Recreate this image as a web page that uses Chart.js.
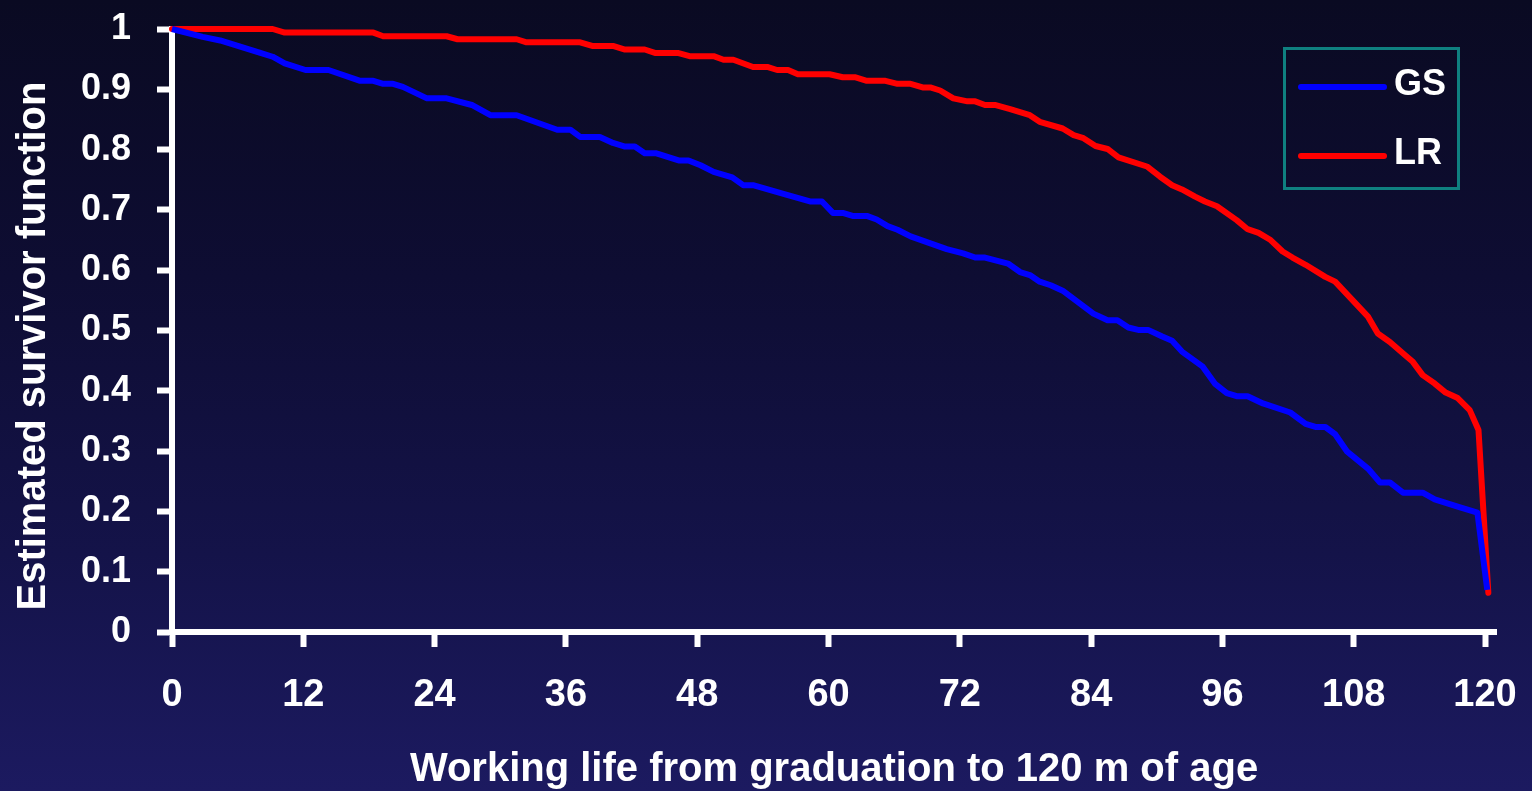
<!DOCTYPE html>
<html>
<head>
<meta charset="utf-8">
<script src="https://cdn.jsdelivr.net/npm/chart.js@4.4.1/dist/chart.umd.min.js"></script>
<style>
  html, body { margin: 0; padding: 0; width: 1532px; height: 791px; overflow: hidden; }
  body { background: linear-gradient(to bottom, #0a0a22 0%, #0e0d33 35%, #141349 70%, #1c1a60 100%); }
  #wrap { position: relative; width: 1532px; height: 791px; }
</style>
</head>
<body>
<div id="wrap"><canvas id="c" width="1532" height="791"></canvas></div>
<script>
// ---- data (months since graduation, estimated survivor function) ----
const gsMonths = [0, 2.8, 4.4, 8.0, 9.2, 10.3, 12.2, 14.3, 17.2, 18.4, 19.3, 20.2, 21.1, 23.3, 25.1, 27.4, 29.1, 31.5, 35.2, 36.4, 37.3, 39.1, 40.3, 41.4, 42.3, 43.2, 44.2, 46.3, 47.2, 48.3, 49.5, 51.2, 52.2, 53.1, 56.2, 58.3, 59.4, 60.4, 61.3, 62.2, 63.5, 64.4, 65.4, 66.3, 67.5, 70.8, 72.3, 73.4, 74.3, 76.4, 77.5, 78.4, 79.3, 80.3, 81.4, 84.2, 85.5, 86.4, 87.4, 88.3, 89.2, 90.5, 91.4, 92.3, 94.2, 95.3, 96.4, 97.3, 98.3, 99.7, 102.2, 103.6, 104.5, 105.4, 106.3, 107.4, 109.3, 110.4, 111.3, 112.5, 114.3, 115.4, 117.5, 119.3, 120.2];
const gsSurv   = [1.0, 0.987, 0.981, 0.961, 0.954, 0.943, 0.932, 0.932, 0.914, 0.914, 0.909, 0.909, 0.904, 0.885, 0.885, 0.874, 0.857, 0.857, 0.833, 0.833, 0.821, 0.821, 0.811, 0.805, 0.805, 0.794, 0.794, 0.782, 0.782, 0.774, 0.763, 0.754, 0.741, 0.741, 0.725, 0.714, 0.714, 0.695, 0.695, 0.690, 0.690, 0.684, 0.673, 0.667, 0.656, 0.635, 0.628, 0.621, 0.621, 0.611, 0.597, 0.592, 0.581, 0.575, 0.566, 0.528, 0.517, 0.517, 0.505, 0.501, 0.501, 0.490, 0.483, 0.465, 0.440, 0.412, 0.396, 0.391, 0.391, 0.379, 0.364, 0.345, 0.340, 0.340, 0.328, 0.299, 0.271, 0.248, 0.248, 0.231, 0.231, 0.220, 0.208, 0.198, 0.07];

const lrMonths = [0, 9.2, 10.3, 18.4, 19.3, 25.1, 26.1, 31.5, 32.4, 37.3, 38.4, 40.3, 41.4, 43.2, 44.2, 46.3, 47.3, 49.5, 50.4, 51.3, 53.1, 54.4, 55.3, 56.3, 57.2, 60.1, 61.3, 62.4, 63.5, 65.2, 66.3, 67.5, 68.6, 69.3, 70.2, 71.4, 72.7, 73.4, 74.3, 75.2, 76.6, 77.5, 78.4, 79.3, 81.4, 82.4, 83.3, 84.4, 85.5, 86.5, 89.1, 90.3, 91.4, 92.3, 93.5, 94.4, 95.5, 97.3, 98.3, 99.3, 100.4, 101.5, 102.4, 103.6, 105.4, 106.3, 109.3, 110.2, 111.3, 112.7, 113.4, 114.3, 115.4, 116.4, 117.5, 118.6, 119.4, 120.3];
const lrSurv   = [1.0, 1.0, 0.994, 0.994, 0.988, 0.988, 0.983, 0.983, 0.978, 0.978, 0.972, 0.972, 0.966, 0.966, 0.960, 0.960, 0.955, 0.955, 0.949, 0.949, 0.937, 0.937, 0.932, 0.932, 0.925, 0.925, 0.920, 0.920, 0.914, 0.914, 0.909, 0.909, 0.903, 0.903, 0.898, 0.885, 0.880, 0.880, 0.874, 0.874, 0.867, 0.862, 0.857, 0.846, 0.835, 0.824, 0.819, 0.806, 0.801, 0.787, 0.772, 0.755, 0.741, 0.734, 0.722, 0.714, 0.706, 0.683, 0.668, 0.662, 0.650, 0.631, 0.621, 0.609, 0.589, 0.581, 0.523, 0.495, 0.481, 0.459, 0.448, 0.426, 0.412, 0.397, 0.388, 0.368, 0.335, 0.065];

const seriesLabels = ['GS', 'LR'];
const xTickValues = [0, 12, 24, 36, 48, 60, 72, 84, 96, 108, 120];
const yTickValues = [0, 0.1, 0.2, 0.3, 0.4, 0.5, 0.6, 0.7, 0.8, 0.9, 1];
const xTitle = 'Working life from graduation to 120 m of age';
const yTitle = 'Estimated survivor function';

const toPoints = (xs, ys) => xs.map((x, i) => ({ x: x, y: ys[i] }));

const FONT = '"Liberation Sans", Arial, sans-serif';

const legendPlugin = {
  id: 'boxLegend',
  afterDraw(chart) {
    const ctx = chart.ctx;
    ctx.save();
    ctx.strokeStyle = '#0f8080';
    ctx.lineWidth = 3;
    ctx.strokeRect(1284.5, 48.5, 174, 140);
    const rows = [87, 156];
    chart.data.datasets.forEach((ds, i) => {
      ctx.strokeStyle = ds.borderColor;
      ctx.lineWidth = 6;
      ctx.lineCap = 'round';
      ctx.beginPath();
      ctx.moveTo(1301, rows[i]);
      ctx.lineTo(1384, rows[i]);
      ctx.stroke();
      ctx.fillStyle = '#ffffff';
      ctx.font = 'bold 36px ' + FONT;
      ctx.textBaseline = 'middle';
      ctx.textAlign = 'left';
      ctx.fillText(ds.label, 1394, rows[i] - 2);
    });
    ctx.restore();
  }
};

const yTitlePlugin = {
  id: 'yTitle',
  afterDraw(chart) {
    const ctx = chart.ctx;
    ctx.save();
    ctx.translate(34, 346);
    ctx.rotate(-Math.PI / 2);
    ctx.fillStyle = '#ffffff';
    ctx.font = 'bold 40px ' + FONT;
    ctx.textAlign = 'center';
    ctx.textBaseline = 'middle';
    ctx.fillText(yTitle, 0, 0);
    ctx.restore();
  }
};

new Chart(document.getElementById('c'), {
  type: 'line',
  data: {
    datasets: [
      { label: seriesLabels[0], data: toPoints(gsMonths, gsSurv), borderColor: '#0000ff', borderWidth: 6, pointRadius: 0, tension: 0, fill: false, clip: false, borderJoinStyle: 'round' },
      { label: seriesLabels[1], data: toPoints(lrMonths, lrSurv), borderColor: '#ff0000', borderWidth: 6, pointRadius: 0, tension: 0, fill: false, clip: false, borderJoinStyle: 'round', borderCapStyle: 'round' }
    ]
  },
  options: {
    responsive: false,
    animation: false,
    events: [],
    layout: { padding: { top: 29, right: 36, left: 0, bottom: 0 } },
    plugins: { legend: { display: false }, tooltip: { enabled: false } },
    scales: {
      x: {
        type: 'linear',
        min: 0,
        max: 121,
        afterFit(scale) { scale.height = 791 - 632; scale.paddingLeft = 0; scale.paddingRight = 0; },
        afterBuildTicks(scale) { scale.ticks = xTickValues.map(v => ({ value: v })); },
        ticks: { color: '#ffffff', font: { family: FONT, size: 38, weight: 'bold' }, padding: 26, maxRotation: 0, autoSkip: false, includeBounds: false, callback: v => String(v) },
        grid: { drawOnChartArea: false, drawTicks: true, tickLength: 15, tickWidth: 6, tickColor: '#ffffff', color: '#ffffff' },
        border: { display: true, color: '#ffffff', width: 6 },
        title: { display: true, text: xTitle, color: '#ffffff', font: { family: FONT, size: 40, weight: 'bold' }, padding: { top: 0, bottom: -3 } }
      },
      y: {
        type: 'linear',
        min: 0,
        max: 1,
        afterFit(scale) { scale.width = 172; scale.paddingTop = 0; scale.paddingBottom = 0; },
        afterBuildTicks(scale) { scale.ticks = yTickValues.map(v => ({ value: v })); },
        ticks: { color: '#ffffff', font: { family: FONT, size: 36, weight: 'bold' }, padding: 26, includeBounds: false, callback: v => (v === 0 || v === 1) ? String(v) : v.toFixed(1) },
        grid: { drawOnChartArea: false, drawTicks: true, tickLength: 15, tickWidth: 6, tickColor: '#ffffff', color: '#ffffff' },
        border: { display: true, color: '#ffffff', width: 6 },
        title: { display: false }
      }
    }
  },
  plugins: [legendPlugin, yTitlePlugin]
});
</script>
</body>
</html>
